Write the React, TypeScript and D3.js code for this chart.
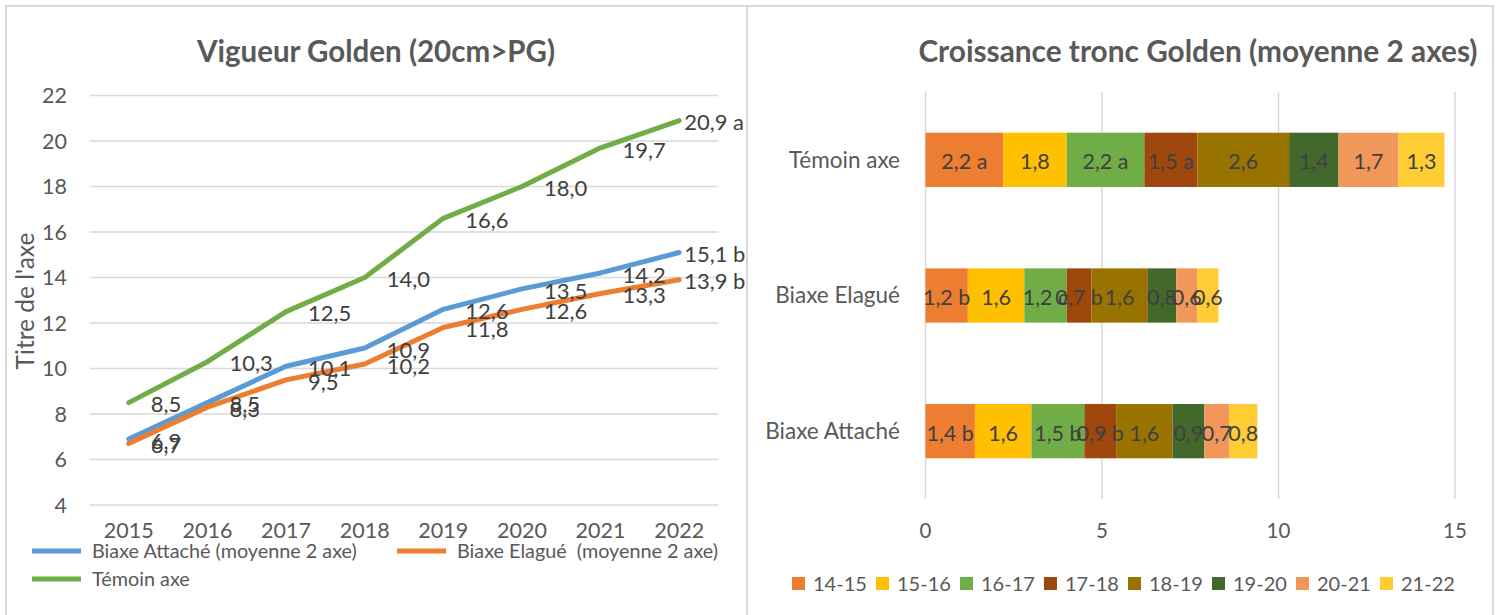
import React, { useEffect, useRef } from 'react';
import * as d3 from 'd3';

// left chart: vigueur
const years = ['2015', '2016', '2017', '2018', '2019', '2020', '2021', '2022'];
const attacheValues = [6.9, 8.5, 10.1, 10.9, 12.6, 13.5, 14.2, 15.1];
const elagueValues = [6.7, 8.3, 9.5, 10.2, 11.8, 12.6, 13.3, 13.9];
const temoinValues = [8.5, 10.3, 12.5, 14.0, 16.6, 18.0, 19.7, 20.9];
const lastLetters = ['b', 'b', 'a'];
const lineNames = ['Biaxe Attaché (moyenne 2 axe)', 'Biaxe Elagué  (moyenne 2 axe)', 'Témoin axe'];
const lineColors = ['#5B9BD5', '#ED7D31', '#70AD47'];
const yTicks = [4, 6, 8, 10, 12, 14, 16, 18, 20, 22];

// right chart: croissance tronc
const groups = ['Témoin axe', 'Biaxe Elagué', 'Biaxe Attaché'];
const periods = ['14-15', '15-16', '16-17', '17-18', '18-19', '19-20', '20-21', '21-22'];
const periodColors = ['#ED7D31', '#FFC000', '#70AD47', '#9E480E', '#997300', '#43682B', '#F1975A', '#FFCD33'];
const temoinGrowth = [2.2, 1.8, 2.2, 1.5, 2.6, 1.4, 1.7, 1.3];
const elagueGrowth = [1.2, 1.6, 1.2, 0.7, 1.6, 0.8, 0.6, 0.6];
const attacheGrowth = [1.4, 1.6, 1.5, 0.9, 1.6, 0.9, 0.7, 0.8];
const temoinLetters = ['a', '', 'a', 'a', '', '', '', ''];
const elagueLetters = ['b', '', 'c', 'b', '', '', '', ''];
const attacheLetters = ['b', '', 'b', 'b', '', '', '', ''];
const xTicks = [0, 5, 10, 15];

const FONT = 'Lato, sans-serif';
const fmt = (v: number) => v.toFixed(1).replace('.', ',');

const App = () => {
  const svgRef = useRef<SVGSVGElement>(null);

  useEffect(() => {
    document.body.style.margin = '0';
    const svg = d3.select(svgRef.current);
    svg.selectAll('*').remove();

    // frames
    const frame = svg.append('g').attr('stroke', '#d9d9d9').attr('stroke-width', 2).attr('fill', 'none');
    frame.append('path').attr('d', 'M6,615 V6 H1493 V615');
    frame.append('line').attr('x1', 747).attr('x2', 747).attr('y1', 6).attr('y2', 615);

    // ---------- left chart ----------
    const left = svg.append('g');
    const x = d3.scaleBand().domain(years).range([89.5, 718.5]);
    const y = d3.scaleLinear().domain([4, 22]).range([505, 95.5]);
    const cx = (d: string) => (x(d) as number) + x.bandwidth() / 2;

    left.append('text')
      .attr('x', 376).attr('y', 52).attr('dy', '0.35em')
      .attr('text-anchor', 'middle')
      .style('font', `bold 29.5px ${FONT}`).attr('fill', '#595959')
      .text('Vigueur Golden (20cm>PG)');

    left.selectAll('line.grid').data(yTicks).enter().append('line')
      .attr('x1', 89.5).attr('x2', 718.5)
      .attr('y1', d => y(d)).attr('y2', d => y(d))
      .attr('stroke', '#d9d9d9').attr('stroke-width', 1.5);

    left.selectAll('text.ytick').data(yTicks).enter().append('text')
      .attr('x', 67).attr('y', d => y(d)).attr('dy', '0.35em')
      .attr('text-anchor', 'end')
      .style('font', `21.5px ${FONT}`).attr('fill', '#595959')
      .text(d => d);

    left.selectAll('text.xtick').data(years).enter().append('text')
      .attr('x', d => cx(d)).attr('y', 530).attr('dy', '0.35em')
      .attr('text-anchor', 'middle')
      .style('font', `21.5px ${FONT}`).attr('fill', '#595959')
      .text(d => d);

    left.append('text')
      .attr('transform', 'translate(25,301) rotate(-90)')
      .attr('dy', '0.35em').attr('text-anchor', 'middle')
      .style('font', `24.5px ${FONT}`).attr('fill', '#595959')
      .text("Titre de l'axe");

    const series = [attacheValues, elagueValues, temoinValues];
    const line = d3.line<number>().x((_, i) => cx(years[i])).y(d => y(d));
    series.forEach((vals, s) => {
      left.append('path').datum(vals)
        .attr('d', line)
        .attr('fill', 'none').attr('stroke', lineColors[s])
        .attr('stroke-width', 5).attr('stroke-linejoin', 'round').attr('stroke-linecap', 'round');
    });
    series.forEach((vals, s) => {
      vals.forEach((v, i) => {
        const last = i === vals.length - 1;
        left.append('text')
          .attr('x', cx(years[i]) + (last ? 5 : 22)).attr('y', y(v) + 2).attr('dy', '0.35em')
          .style('font', `22px ${FONT}`).attr('fill', '#404040')
          .text(last ? `${fmt(v)} ${lastLetters[s]}` : fmt(v));
      });
    });

    // legend
    const legendPos = [[32, 551], [397, 551], [32, 579]];
    lineNames.forEach((name, s) => {
      const [lx, ly] = legendPos[s];
      left.append('line')
        .attr('x1', lx).attr('x2', lx + 49).attr('y1', ly).attr('y2', ly)
        .attr('stroke', lineColors[s]).attr('stroke-width', 5);
      left.append('text')
        .attr('x', lx + 60).attr('y', ly).attr('dy', '0.35em')
        .style('font', `19.8px ${FONT}`).style('white-space', 'pre').attr('fill', '#595959')
        .text(name);
    });

    // ---------- right chart ----------
    const right = svg.append('g');
    const xr = d3.scaleLinear().domain([0, 15]).range([925.5, 1455]);
    const yr = d3.scaleBand().domain(groups).range([92, 499]).paddingInner(0.6).paddingOuter(0.3);

    right.append('text')
      .attr('x', 1198).attr('y', 52).attr('dy', '0.35em')
      .attr('text-anchor', 'middle')
      .style('font', `bold 29.8px ${FONT}`).attr('fill', '#595959')
      .text('Croissance tronc Golden (moyenne 2 axes)');

    right.selectAll('line.grid').data(xTicks).enter().append('line')
      .attr('x1', d => xr(d)).attr('x2', d => xr(d))
      .attr('y1', 92).attr('y2', 499)
      .attr('stroke', '#d9d9d9').attr('stroke-width', 1.5);

    right.selectAll('text.xtick').data(xTicks).enter().append('text')
      .attr('x', d => xr(d)).attr('y', 531).attr('dy', '0.35em')
      .attr('text-anchor', 'middle')
      .style('font', `20.5px ${FONT}`).attr('fill', '#595959')
      .text(d => d);

    right.selectAll('text.cat').data(groups).enter().append('text')
      .attr('x', 900).attr('y', d => (yr(d) as number) + yr.bandwidth() / 2).attr('dy', '0.35em')
      .attr('text-anchor', 'end')
      .style('font', `22.5px ${FONT}`).attr('fill', '#595959')
      .text(d => d);

    const growth = [temoinGrowth, elagueGrowth, attacheGrowth];
    const letters = [temoinLetters, elagueLetters, attacheLetters];
    const rows = groups.map((g, gi) => {
      const row: any = { group: g };
      periods.forEach((p, pi) => { row[p] = growth[gi][pi]; });
      return row;
    });
    const stacked = d3.stack<any>().keys(periods)(rows);

    stacked.forEach((layer, pi) => {
      right.selectAll(null).data(layer).enter().append('rect')
        .attr('x', d => xr(d[0]))
        .attr('y', d => yr(d.data.group) as number)
        .attr('width', d => xr(d[1]) - xr(d[0]))
        .attr('height', yr.bandwidth())
        .attr('fill', periodColors[pi]);
    });
    stacked.forEach((layer, pi) => {
      layer.forEach((d, gi) => {
        const letter = letters[gi][pi];
        right.append('text')
          .attr('x', xr((d[0] + d[1]) / 2))
          .attr('y', (yr(d.data.group) as number) + yr.bandwidth() / 2 + 2).attr('dy', '0.35em')
          .attr('text-anchor', 'middle')
          .style('font', `21.5px ${FONT}`).attr('fill', '#404040')
          .text(letter ? `${fmt(d[1] - d[0])} ${letter}` : fmt(d[1] - d[0]));
      });
    });

    // legend
    periods.forEach((p, pi) => {
      const lx = 792 + pi * 84;
      right.append('rect')
        .attr('x', lx).attr('y', 577).attr('width', 13).attr('height', 13)
        .attr('fill', periodColors[pi]);
      right.append('text')
        .attr('x', lx + 21).attr('y', 584).attr('dy', '0.35em')
        .style('font', `20px ${FONT}`).attr('fill', '#595959')
        .text(p);
    });
  }, []);

  return (
    <svg ref={svgRef} width={1496} height={615} style={{ display: 'block', background: '#fff' }} />
  );
};

export default App;
